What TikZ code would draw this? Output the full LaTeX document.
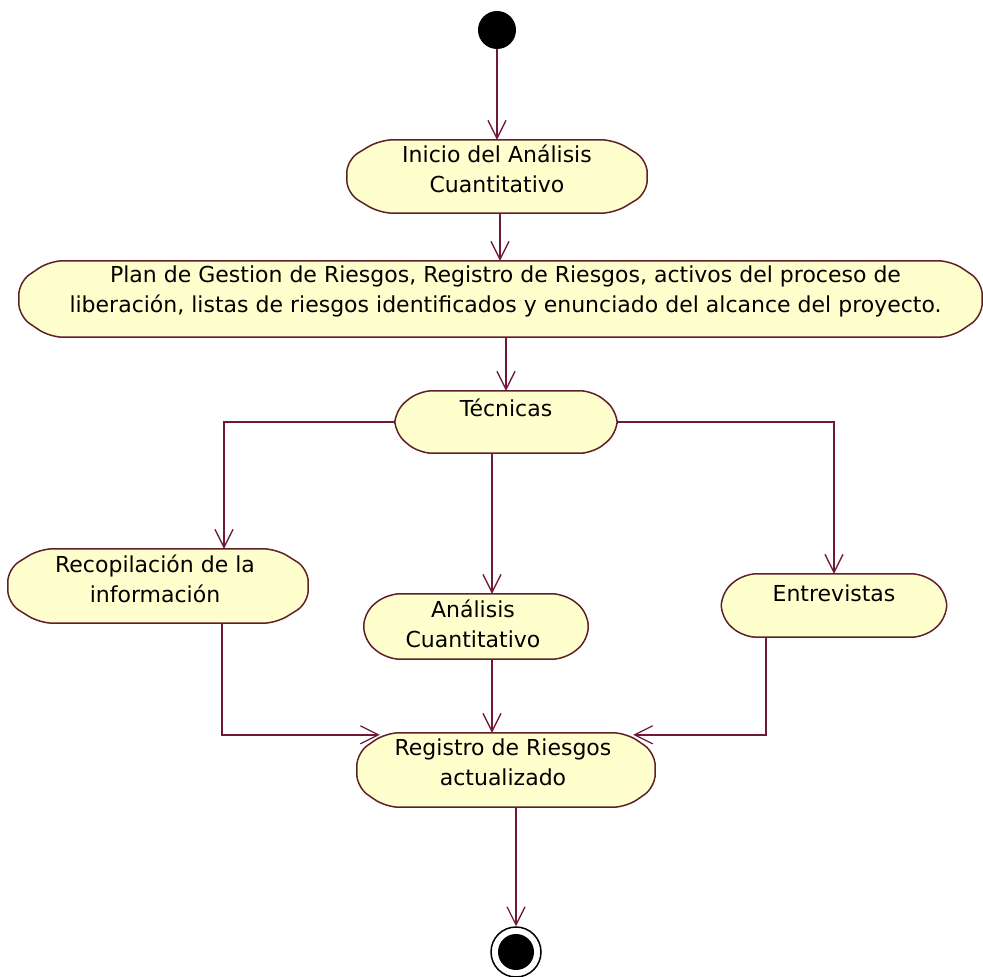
\documentclass[tikz,border=0pt]{standalone}
\usepackage{fontspec}
\setmainfont{DejaVu Sans}
\usetikzlibrary{arrows.meta,calc}
\definecolor{flowcol}{RGB}{112,24,60}
\definecolor{edgecol}{RGB}{96,32,40}
\definecolor{actfill}{RGB}{255,255,206}
\begin{document}
\begin{tikzpicture}[x=1pt,y=-1pt,
  flow/.style={draw=flowcol, line width=1.5pt,
    -{Straight Barb[length=18pt,width=18pt,line width=1.3pt]}},
  actbox/.style={rectangle, inner sep=0pt, draw=none},
  actshape/.style={draw=edgecol, fill=actfill, line width=1.5pt, rounded corners=13pt},
  acttext/.style={anchor=north, inner sep=0pt, align=center,
    font=\fontsize{22}{29.5}\selectfont, text=black,
    execute at begin node=\rule{0pt}{21pt}},
]
\useasboundingbox (0,0) rectangle (983,977);

% activity frames (sized, invisible rectangles)
\node[actbox, minimum width=300pt, minimum height=73pt] (inicio) at (497,176.5) {};
\node[actbox, minimum width=963pt, minimum height=76pt] (plan) at (500.5,299) {};
\node[actbox, minimum width=222pt, minimum height=62pt] (tec) at (506,422) {};
\node[actbox, minimum width=300pt, minimum height=74pt] (recop) at (158,586) {};
\node[actbox, minimum width=224pt, minimum height=65pt] (ana) at (476,626.5) {};
\node[actbox, minimum width=225pt, minimum height=63pt] (entr) at (834,605.5) {};
\node[actbox, minimum width=298pt, minimum height=74pt] (reg) at (506,770) {};

% activity outlines: flat top and bottom, bevelled rounded ends
\foreach \n/\a/\b in {inicio/33/20, plan/31/21, tec/24/20, recop/32/20, ana/23/19, entr/22/19, reg/29/20}
  \path[actshape] ([xshift=\a pt]\n.north west) -- ([xshift=-\a pt]\n.north east)
    -- ([yshift=-\b pt]\n.north east) -- ([yshift=\b pt]\n.south east)
    -- ([xshift=-\a pt]\n.south east) -- ([xshift=\a pt]\n.south west)
    -- ([yshift=\b pt]\n.south west) -- ([yshift=-\b pt]\n.north west) -- cycle;

% activity labels
\node[acttext] (inicio-t) at ([yshift=-5pt]inicio.north) {Inicio del Análisis\\Cuantitativo};
\node[acttext] (plan-t) at ([xshift=5pt,yshift=-5pt]plan.north) {Plan de Gestion de Riesgos, Registro de Riesgos, activos del proceso de\\liberación, listas de riesgos identificados y enunciado del alcance del proyecto.};
\node[acttext] (tec-t) at ([yshift=-4pt]tec.north) {Técnicas};
\node[acttext] (recop-t) at ([xshift=-3pt,yshift=-6pt]recop.north) {Recopilación de la\\información};
\node[acttext] (ana-t) at ([xshift=-3pt,yshift=-6pt]ana.north) {Análisis\\Cuantitativo};
\node[acttext] (entr-t) at ([yshift=-6pt]entr.north) {Entrevistas};
\node[acttext] (reg-t) at ([xshift=-3pt,yshift=-6pt]reg.north) {Registro de Riesgos\\actualizado};

% initial and final states
\node[circle, fill=black, minimum size=38pt, inner sep=0pt] (start) at (497,30) {};
\node[circle, draw=black, line width=1.5pt, fill=white, minimum size=50pt, inner sep=0pt] (end) at (516,952) {};
\fill[black] (end.center) circle (18pt);

% transitions
\draw[flow] (start.south) -- (start.south |- inicio.north);
\coordinate (c1) at ([xshift=3pt]inicio.south);
\draw[flow] (c1) -- (c1 |- plan.north);
\draw[flow] (tec.north |- plan.south) -- (tec.north);
\draw[flow] (tec.west) -| ([xshift=66pt]recop.north);
\coordinate (c2) at ([xshift=-14pt]tec.south);
\draw[flow] (c2) -- (c2 |- ana.north);
\draw[flow] (tec.east) -| (entr.north);
\draw[flow] ([xshift=64pt]recop.south) |- ([xshift=23pt,yshift=-2pt]reg.north west);
\coordinate (c3) at ([xshift=16pt]ana.south);
\draw[flow] (c3) -- (c3 |- reg.north);
\draw[flow] ([xshift=-68pt]entr.south) |- ([xshift=-22pt,yshift=-2pt]reg.north east);
\draw[flow] ([xshift=10pt]reg.south) -- (end.north);
\end{tikzpicture}
\end{document}
